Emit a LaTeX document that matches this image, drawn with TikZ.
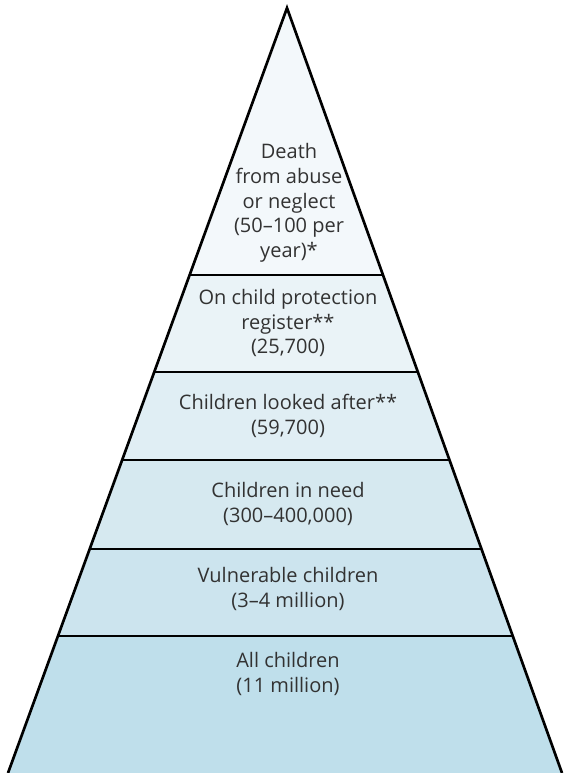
\documentclass[tikz,border=0pt]{standalone}
\usepackage{fontspec}
\setmainfont{Open Sans}
\usetikzlibrary{calc,positioning}
\definecolor{bandA}{RGB}{243,248,251}
\definecolor{bandB}{RGB}{234,243,247}
\definecolor{bandC}{RGB}{224,238,244}
\definecolor{bandD}{RGB}{214,233,240}
\definecolor{bandE}{RGB}{204,228,238}
\definecolor{bandF}{RGB}{191,223,235}
\definecolor{textgray}{RGB}{50,50,50}
\tikzstyle{divider}  = [line width=1.9pt, black]
\tikzstyle{edge}     = [line width=2pt, black, line join=miter]
\tikzstyle{bandtext} = [align=center, text=textgray, inner sep=0pt, font=\fontsize{15}{18.5}\selectfont]

\begin{document}
\begin{tikzpicture}[x=0.75pt, y=-0.75pt]
        \useasboundingbox (0,0) rectangle (563,773);
        \coordinate (apex) at (287,8);
        \coordinate (bl) at (8,773);
        \coordinate (br) at (562,773);

        % bands, clipped to the triangle
        \begin{scope}
            \clip (apex) -- (bl) -- (br) -- cycle;
            \fill[bandA] (0,0)   rectangle (563,275);
            \fill[bandB] (0,275) rectangle (563,372);
            \fill[bandC] (0,372) rectangle (563,460);
            \fill[bandD] (0,460) rectangle (563,549);
            \fill[bandE] (0,549) rectangle (563,636);
            \fill[bandF] (0,636) rectangle (563,773);
            \foreach \y in {275,372,460,549,636}
                \draw[divider] (0,\y) -- (563,\y);
        \end{scope}
        \draw[edge] (bl) -- (apex) -- (br);

        \node[bandtext] (death) at (289,203) {Death\\from abuse\\or neglect\\(50--100 per\\year)*};
        \node[bandtext] (register) at (288,323) {On child protection\\register**\\(25,700)};
        \node[bandtext] (lookedafter) at (288,416) {Children looked after**\\(59,700)};
        \node[bandtext] (inneed) at (288,504) {Children in need\\(300--400,000)};
        \node[bandtext] (vulnerable) at (288,589) {Vulnerable children\\(3--4 million)};
        \node[bandtext] (allchildren) at (288,674) {All children\\(11 million)};
    \end{tikzpicture}
\end{document}
